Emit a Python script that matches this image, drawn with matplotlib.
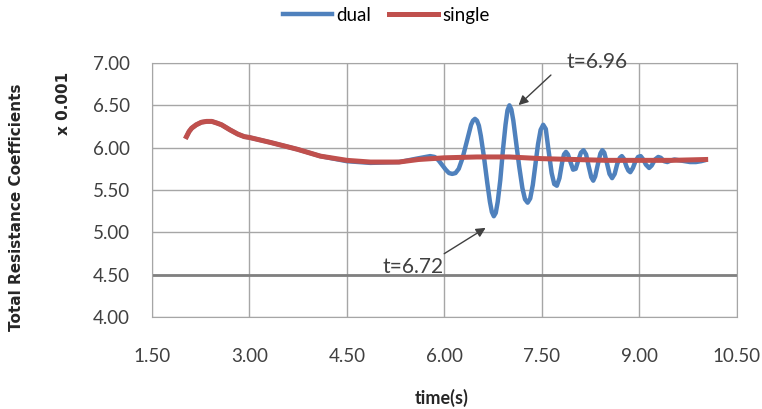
import matplotlib.pyplot as plt

# values (x 0.001)
single_t = [2.03, 2.07, 2.11, 2.18, 2.26, 2.34, 2.42, 2.50, 2.57, 2.70, 2.82, 2.92,
            3.00, 3.33, 3.74, 4.09, 4.50, 4.86, 5.30, 5.60, 6.00, 6.50, 7.00, 7.50,
            8.00, 8.50, 9.00, 9.50, 10.02]
single_v = [6.13, 6.19, 6.23, 6.27, 6.30, 6.31, 6.31, 6.29, 6.27, 6.21, 6.16, 6.13,
            6.12, 6.06, 5.98, 5.90, 5.85, 5.83, 5.83, 5.86, 5.88, 5.89, 5.89, 5.87,
            5.86, 5.85, 5.85, 5.85, 5.86]

dual_t = [2.03, 2.07, 2.11, 2.18, 2.26, 2.34, 2.42, 2.50, 2.57, 2.70, 2.82, 2.92,
          3.00, 3.33, 3.74, 4.09, 4.50, 4.86, 5.31, 5.57, 5.78, 5.85, 5.91, 5.97,
          6.02, 6.07, 6.12, 6.17, 6.22, 6.28, 6.35, 6.41, 6.44, 6.47, 6.50, 6.53,
          6.56, 6.61, 6.66, 6.70, 6.73, 6.76, 6.79, 6.82, 6.86, 6.90, 6.94, 6.97,
          7.00, 7.03, 7.06, 7.10, 7.15, 7.20, 7.24, 7.28, 7.32, 7.36, 7.40, 7.44,
          7.48, 7.52, 7.56, 7.60, 7.65, 7.69, 7.73, 7.77, 7.81, 7.84, 7.87, 7.90,
          7.94, 7.98, 8.02, 8.06, 8.10, 8.14, 8.18, 8.22, 8.26, 8.29, 8.32, 8.36,
          8.40, 8.43, 8.46, 8.50, 8.54, 8.58, 8.62, 8.66, 8.70, 8.73, 8.76, 8.80,
          8.83, 8.86, 8.90, 8.94, 8.98, 9.02, 9.06, 9.10, 9.15, 9.19, 9.24, 9.29,
          9.33, 9.38, 9.43, 9.49, 9.54, 9.62, 9.70, 9.78, 9.87, 9.95, 10.00]
dual_v = [6.13, 6.19, 6.23, 6.27, 6.30, 6.31, 6.31, 6.29, 6.27, 6.21, 6.16, 6.13,
          6.12, 6.06, 5.98, 5.90, 5.84, 5.82, 5.83, 5.87, 5.90, 5.89, 5.85, 5.79,
          5.74, 5.70, 5.69, 5.70, 5.75, 5.88, 6.09, 6.27, 6.32, 6.34, 6.32, 6.26,
          6.14, 5.88, 5.58, 5.36, 5.24, 5.19, 5.23, 5.36, 5.62, 5.97, 6.27, 6.44,
          6.50, 6.45, 6.32, 6.08, 5.78, 5.52, 5.39, 5.35, 5.40, 5.56, 5.80, 6.04,
          6.21, 6.27, 6.22, 5.98, 5.70, 5.57, 5.55, 5.64, 5.82, 5.92, 5.95, 5.92,
          5.83, 5.74, 5.75, 5.85, 5.94, 5.97, 5.92, 5.78, 5.65, 5.61, 5.66, 5.80,
          5.93, 5.97, 5.94, 5.82, 5.69, 5.64, 5.69, 5.81, 5.88, 5.90, 5.87, 5.78,
          5.73, 5.71, 5.76, 5.84, 5.89, 5.90, 5.86, 5.80, 5.76, 5.79, 5.86, 5.89,
          5.88, 5.84, 5.83, 5.85, 5.86, 5.85, 5.84, 5.83, 5.83, 5.84, 5.85]

xticks = [1.5, 3.0, 4.5, 6.0, 7.5, 9.0, 10.5]
yticks = [4.0, 4.5, 5.0, 5.5, 6.0, 6.5, 7.0]

font = ['Lato', 'DejaVu Sans']

fig = plt.figure(figsize=(7.62, 4.09), dpi=100)
ax = fig.add_axes([0.1995, 0.225, 0.7675, 0.621])

ax.plot(dual_t, dual_v, color='#4F81BD', lw=3.2, solid_joinstyle='round', label='dual')
ax.plot(single_t, single_v, color='#C0504D', lw=3.6, solid_joinstyle='round', label='single')

ax.set_xlim(1.5, 10.5)
ax.set_ylim(4.0, 7.0)
ax.set_xticks(xticks)
ax.set_yticks(yticks)
ax.set_xticklabels(['%.2f' % v for v in xticks], family=font, fontsize=13.5, color='#404040')
ax.set_yticklabels(['%.2f' % v for v in yticks], family=font, fontsize=13.5, color='#404040')
ax.tick_params(axis='x', length=0, pad=22)
ax.tick_params(axis='y', length=0, pad=16)
ax.grid(True, color='#a6a6a6', lw=1)
ax.set_axisbelow(True)
ax.axhline(4.5, color='#808080', lw=2, zorder=1)
for s in ax.spines.values():
    s.set_color('#a6a6a6')

# annotations: arrows and their labels
arrow = dict(arrowstyle='-|>', color='#404040', lw=1, mutation_scale=14)
ax.annotate('', xy=(7.11, 6.48), xytext=(7.67, 6.88), arrowprops=arrow)
ax.text(7.88, 7.01, 't=6.96', family=font, fontsize=15, color='#404040',
        ha='left', va='center')
ax.annotate('', xy=(6.67, 5.07), xytext=(5.96, 4.73), arrowprops=arrow)
ax.text(5.98, 4.59, 't=6.72', family=font, fontsize=15, color='#404040',
        ha='right', va='center')

fig.text(0.58, 0.027, 'time(s)', family=font, fontsize=13, fontweight='bold',
         ha='center', va='center', color='#262626')
fig.text(0.022, 0.494, 'Total Resistance Coefficients', fontsize=11, fontweight='bold',
         rotation=90, ha='center', va='center', color='#262626')
fig.text(0.083, 0.746, 'x 0.001', fontsize=11, fontweight='bold',
         rotation=90, ha='center', va='center', color='#262626')

fig.legend(loc='center', bbox_to_anchor=(0.507, 0.962), ncol=2, frameon=False,
           prop={'family': font, 'size': 13.5}, handlelength=2.6, handletextpad=0.2,
           columnspacing=1.0)

plt.savefig('out.png', dpi=100)
